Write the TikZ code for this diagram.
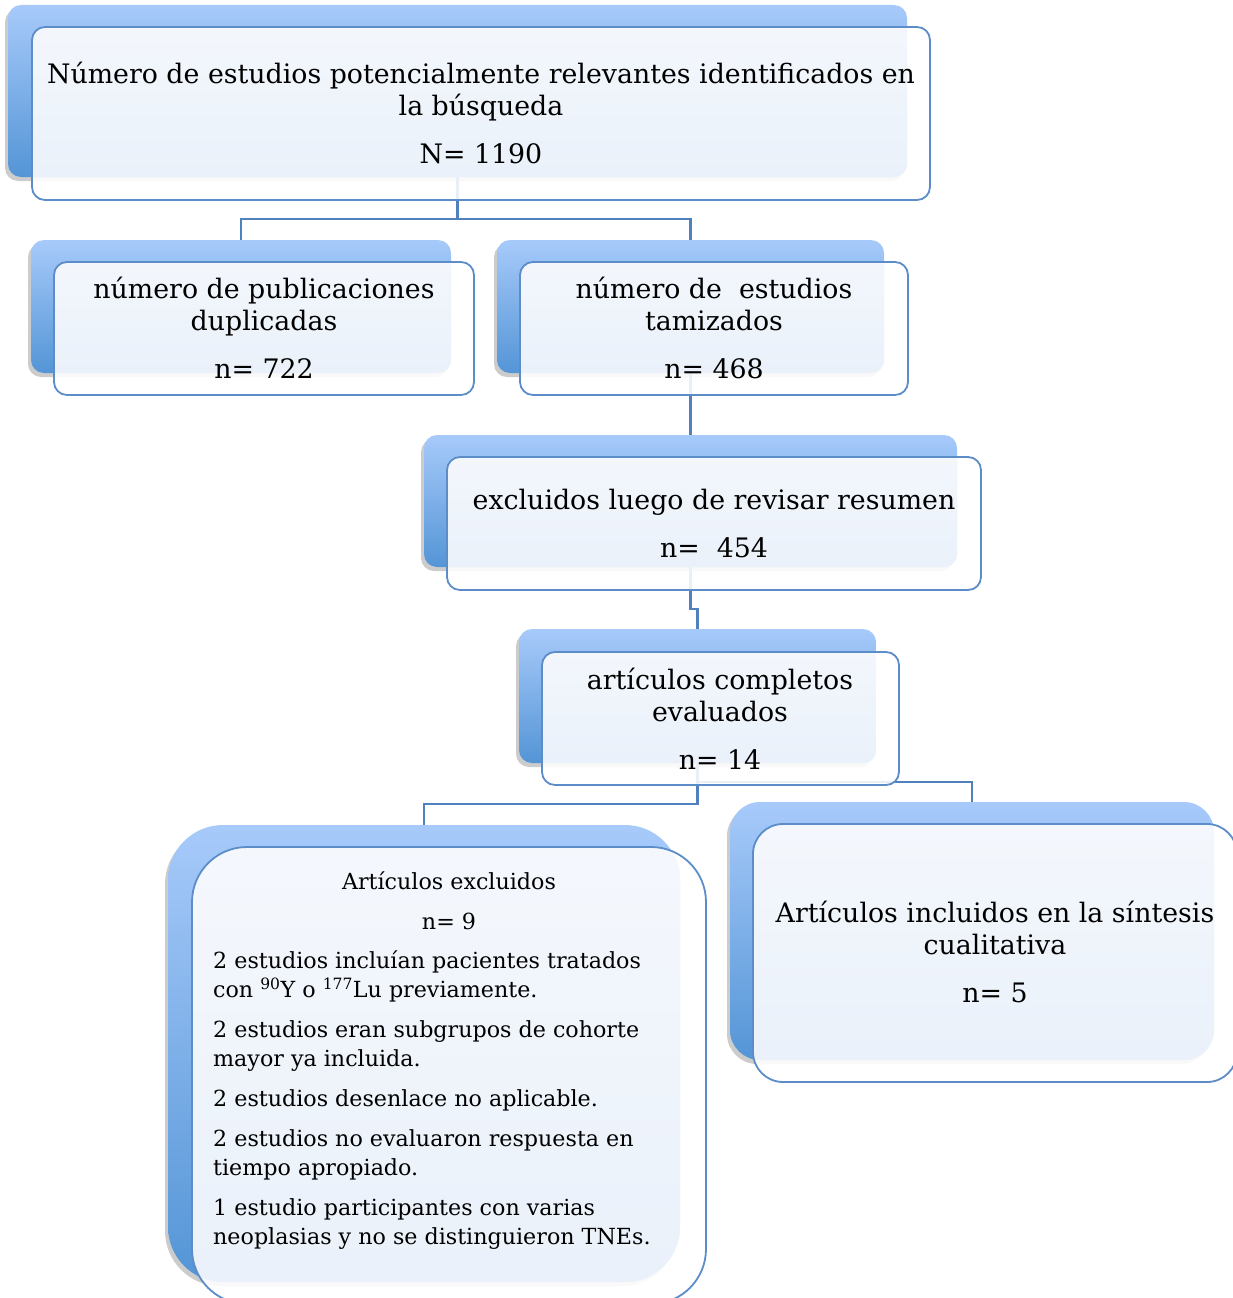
\documentclass[tikz,border=0pt]{standalone}
\usepackage{fontspec}
\setmainfont{DejaVu Serif}
\usetikzlibrary{fit,shadows,calc}
\pgfdeclarelayer{back}
\pgfdeclarelayer{lines}
\pgfdeclarelayer{frontfill}
\pgfsetlayers{back,lines,frontfill,main}
\definecolor{bTop}{RGB}{167,202,250}
\definecolor{bBot}{RGB}{84,149,214}
\definecolor{tintT}{RGB}{245,248,253}
\definecolor{tintB}{RGB}{234,241,250}
\definecolor{bordc}{RGB}{92,141,200}
\definecolor{connc}{RGB}{79,129,189}
\tikzset{
  backbox/.style={top color=bTop, bottom color=bBot, draw=none, inner sep=0pt, outer sep=0pt,
    drop shadow={shadow xshift=-3pt, shadow yshift=-4pt, opacity=.4}},
  frontbox/.style={draw=bordc, line width=1.8pt, inner sep=0pt, outer sep=0pt},
  connline/.style={draw=connc, line width=2.2pt},
  bigtxt/.style={align=center, inner sep=0pt, font={\fontsize{26.8}{32}\selectfont}},
  smalltxt/.style={inner sep=0pt, font={\fontsize{22.2}{29}\selectfont}}
}
% #1 name, #2/#3 back corners, #4/#5 front corners, #6 radius
\newcommand\smbox[6]{%
  \begin{pgfonlayer}{back}
    \node[backbox, rounded corners=#6, fit={#2 #3}] (#1b) {};
  \end{pgfonlayer}
  \begin{pgfonlayer}{frontfill}
    \fill[white, fill opacity=.88, rounded corners=#6] #4 rectangle #5;
    \begin{scope}
      \clip[rounded corners=#6] #4 rectangle #5;
      \shade[top color=tintT, bottom color=tintB, rounded corners=#6] #2 rectangle #3;
    \end{scope}
  \end{pgfonlayer}
  \node[frontbox, rounded corners=#6, fit={#4 #5}] (#1) {};
}
\begin{document}
\begin{tikzpicture}[x=1pt, y=-1pt]
\useasboundingbox (0,0) rectangle (1233,1298);

\smbox{b1}{(8,5)}{(907,177)}{(32,27)}{(930,200)}{13}
\smbox{b2l}{(31,240)}{(451,373)}{(54,262)}{(474,395)}{13}
\smbox{b2r}{(497,240)}{(884,373)}{(520,262)}{(908,395)}{13}
\smbox{b3}{(424,435)}{(957,567)}{(447,457)}{(981,590)}{13}
\smbox{b4}{(519,629)}{(876,763)}{(542,652)}{(899,785)}{13}
\smbox{b5}{(168,825)}{(680,1282)}{(192,847)}{(706,1304)}{55}
\smbox{b6}{(730,802)}{(1214,1060)}{(753,824)}{(1237,1082)}{30}

\coordinate (m1) at (0,219);
\coordinate (m3) at (0,609);
\coordinate (m4) at (0,804);
\coordinate (m5) at (0,782);

\begin{pgfonlayer}{lines}
  \draw[connline] (b1b.south) -- (b1b.south |- m1);
  \draw[connline] (b2lb.north) |- (b2rb.north |- m1) -- (b2rb.north);
  \draw[connline] (b2rb.south) -- (b3b.north);
  \draw[connline] (b3b.south) -- (b3b.south |- m3) -| (b4b.north);
  \draw[connline] (b4b.south) -- (b4b.south |- m4) -| (b5b.north);
  \draw[connline] (b4b.south |- m5) -| (b6b.north);
\end{pgfonlayer}

\node[bigtxt] (t1) at (481,113) {Número de estudios potencialmente relevantes identificados en\\la búsqueda\\[16pt]N= 1190};
\node[bigtxt] (t2l) at (264,328) {número de publicaciones\\duplicadas\\[16pt]n= 722};
\node[bigtxt] (t2r) at (714,328) {número de \ estudios\\tamizados\\[16pt]n= 468};
\node[bigtxt] (t3) at (714,524) {excluidos luego de revisar resumen\\[16pt]n= \ 454};
\node[bigtxt] (t4) at (720,719) {artículos completos\\evaluados\\[16pt]n= 14};
\node[bigtxt] (t6) at (995,952) {Artículos incluidos en la síntesis\\cualitativa\\[16pt]n= 5};

\node[smalltxt, align=center] (t5h) at (449,901) {Artículos excluidos\\[11pt]n= 9};
\node[smalltxt, align=left, anchor=west] (t5b) at (213,1100) {2 estudios incluían pacientes tratados\\con \textsuperscript{90}Y o \textsuperscript{177}Lu previamente.\\[11pt]2 estudios eran subgrupos de cohorte\\mayor ya incluida.\\[11pt]2 estudios desenlace no aplicable.\\[11pt]2 estudios no evaluaron respuesta en\\tiempo apropiado.\\[11pt]1 estudio participantes con varias\\neoplasias y no se distinguieron TNEs.};
\end{tikzpicture}
\end{document}
